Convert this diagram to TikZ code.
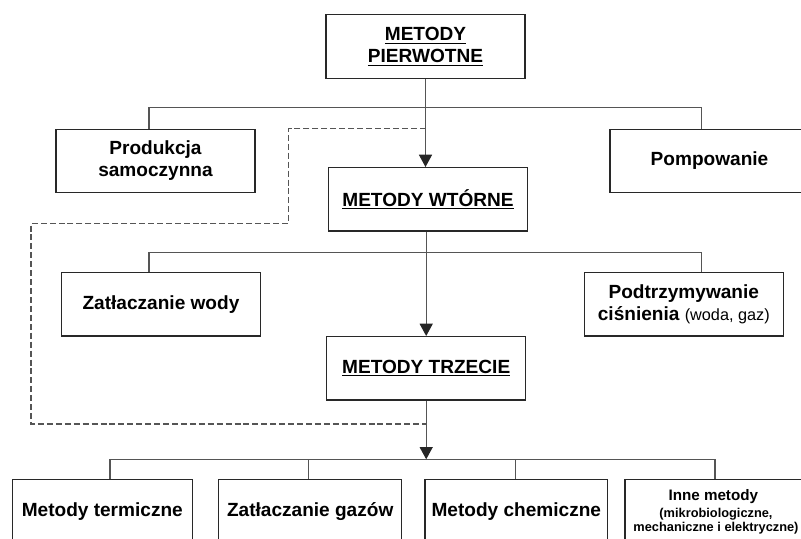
\documentclass[tikz,border=0pt]{standalone}
\usepackage{fontspec}
\setmainfont{Liberation Sans}
\usetikzlibrary{arrows.meta}

\definecolor{boxline}{RGB}{40,40,40}
\definecolor{linkline}{RGB}{85,85,85}
\newcommand{\subfnt}{\fontsize{9.6}{10.5}\selectfont}

\begin{document}
\begin{tikzpicture}[x=0.75pt,y=0.75pt,yscale=-1,xscale=1,
  metbox/.style={draw=boxline, line width=0.95pt, inner sep=0pt, align=center,
    minimum width=149.25pt, minimum height=47.5pt,
    font=\bfseries\fontsize{14.3}{16.5}\selectfont},
  link/.style={draw=linkline, line width=0.9pt},
  arr/.style={link, -{Triangle[width=9.8pt,length=9.2pt,fill=black!85,color=black!85]}}]
\useasboundingbox (0,0) rectangle (801,539);

%Shape: Box [id:pierw]
\node [metbox] (pierw) at (425.5,46.5) {\underline{METODY}\\\underline{PIERWOTNE}};
%Shape: Box [id:prod]
\node [metbox] (prod) at (155.5,161) {Produkcja\\samoczynna};
%Shape: Box [id:pomp]
\node [metbox] (pomp) at (709.5,161) {Pompowanie};
%Shape: Box [id:wtor]
\node [metbox] (wtor) at (428,199.3) {\underline{METODY WTÓRNE}};
%Shape: Box [id:wody]
\node [metbox] (wody) at (161,304.3) {Zatłaczanie wody};
%Shape: Box [id:podtrz]
\node [metbox] (podtrz) at (683.8,304.3) {Podtrzymywanie\\ciśnienia {\mdseries\fontsize{12.2}{13}\selectfont (woda, gaz)}};
%Shape: Box [id:trzec]
\node [metbox] (trzec) at (426.2,368.3) {\underline{METODY TRZECIE}};
%Shape: Box [id:term]
\node [metbox, minimum width=135pt] (term) at (102.3,511.5) {Metody termiczne};
%Shape: Box [id:gazy]
\node [metbox, minimum width=137.25pt] (gazy) at (310.2,511.5) {Zatłaczanie gazów};
%Shape: Box [id:chem]
\node [metbox, minimum width=137pt] (chem) at (516.3,511.5) {Metody chemiczne};
%Shape: Box [id:inne]
\node [metbox, minimum width=136.5pt, font=\bfseries\fontsize{11.4}{10.5}\selectfont] (inne) at (716,511.5)
  {\hspace*{-4pt}Inne metody\\[2.5pt]{\subfnt (mikrobiologiczne,}\\{\subfnt mechaniczne i elektryczne)}};

% Bar ends
\coordinate (b1l) at (149,107.3);
\coordinate (b1r) at (701.7,107.3);
\coordinate (b2l) at (149,252.3);
\coordinate (b2r) at (701.7,252.3);
\coordinate (b3l) at (110,459.3);
\coordinate (b3r) at (715,459.3);
\coordinate (b3a) at (308.3,459.3);
\coordinate (b3b) at (515.7,459.3);
% Dashed loop corners
\coordinate (dm) at (288.7,223.3);
\coordinate (dl) at (31,424);

%Shape: Tree level 1
\draw [link] (b1l |- prod.north) -- (b1l) -- (b1r) -- (b1r |- pomp.north);
\draw [arr] (pierw.south) -- (pierw.south |- wtor.north);
%Shape: Tree level 2
\draw [link] (b2l |- wody.north) -- (b2l) -- (b2r) -- (b2r |- podtrz.north);
\draw [arr] (wtor.south -| trzec.north) -- (trzec.north);
%Shape: Tree level 3
\draw [link] (b3l |- term.north) -- (b3l) -- (b3r) -- (b3r |- inne.north);
\draw [link] (b3a) -- (b3a |- gazy.north);
\draw [link] (b3b) -- (b3b |- chem.north);
\draw [arr] (trzec.south) -- (trzec.south |- b3l);
%Shape: Dashed skip
\draw [link, dash pattern=on 4.5pt off 2.2pt] (pierw.south |- prod.north) -| (dm) -| (dl) -- (dl -| trzec.south);

\end{tikzpicture}
\end{document}
